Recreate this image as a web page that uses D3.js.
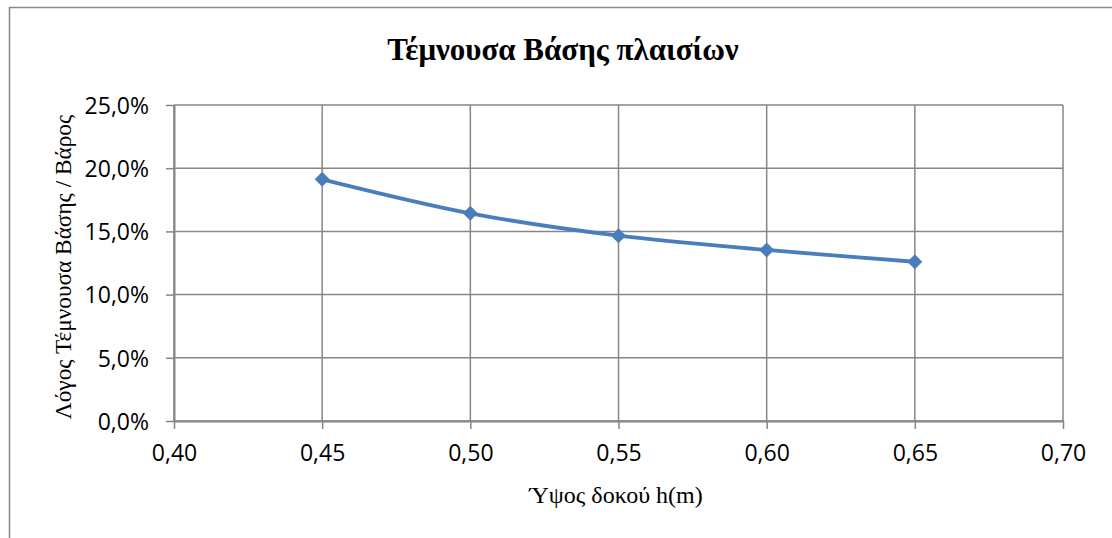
<!DOCTYPE html>
<html>
<head>
<meta charset="utf-8">
<script src="https://cdn.jsdelivr.net/npm/d3@7"></script>
<style>
  html, body { margin: 0; padding: 0; background: #fff; }
  svg { display: block; }
</style>
</head>
<body>
<svg id="chart" width="1112" height="538"></svg>
<script>
// Beam height h (m) and shear-to-weight ratio
const heights = [0.45, 0.50, 0.55, 0.60, 0.65];
const ratios = [0.1912, 0.1643, 0.1466, 0.1353, 0.1260];

const xTicks = [0.40, 0.45, 0.50, 0.55, 0.60, 0.65, 0.70];
const yTicks = [0, 0.05, 0.10, 0.15, 0.20, 0.25];

const title = "Τέμνουσα Βάσης πλαισίων";
const xTitle = "Ύψος δοκού h(m)";
const yTitle = "Λόγος Τέμνουσα Βάσης / Βάρος";

const svg = d3.select("#chart");
const W = 1112, H = 538;
const plot = { left: 174, right: 1063, top: 105, bottom: 421 };
const grey = "#868686";
const blue = "#4a7ebb";

// Outer chart frame
svg.append("rect")
  .attr("x", 9.5).attr("y", 7.5)
  .attr("width", W).attr("height", H)
  .attr("fill", "#fff").attr("stroke", grey).attr("stroke-width", 1.5);

const x = d3.scaleLinear().domain([0.40, 0.70]).range([plot.left, plot.right]);
const y = d3.scaleLinear().domain([0, 0.25]).range([plot.bottom, plot.top]);

const fmtX = v => d3.format(".2f")(v).replace(".", ",");
const fmtY = v => d3.format(".1f")(v * 100).replace(".", ",") + "%";

// Horizontal gridlines
svg.append("g").selectAll("line").data(yTicks).join("line")
  .attr("x1", plot.left).attr("x2", plot.right)
  .attr("y1", d => y(d)).attr("y2", d => y(d))
  .attr("stroke", grey).attr("stroke-width", 1.5);

// Vertical gridlines
svg.append("g").selectAll("line").data(xTicks).join("line")
  .attr("x1", d => x(d)).attr("x2", d => x(d))
  .attr("y1", plot.top).attr("y2", plot.bottom)
  .attr("stroke", grey).attr("stroke-width", 1.5);

// Axes
const xAxis = svg.append("g")
  .attr("transform", `translate(0,${plot.bottom})`)
  .call(d3.axisBottom(x).tickValues(xTicks).tickFormat(fmtX).tickSize(8).tickSizeOuter(0).tickPadding(16));
const yAxis = svg.append("g")
  .attr("transform", `translate(${plot.left},0)`)
  .call(d3.axisLeft(y).tickValues(yTicks).tickFormat(fmtY).tickSize(8).tickSizeOuter(0).tickPadding(17));

[xAxis, yAxis].forEach(g => {
  g.select(".domain").attr("stroke", grey).attr("stroke-width", 2);
  g.selectAll(".tick line").attr("stroke", grey).attr("stroke-width", 1.5);
  g.selectAll(".tick text")
    .attr("fill", "#000")
    .style("font-family", "'Open Sans', 'Liberation Sans', sans-serif")
    .style("font-size", "23px");
});
yAxis.selectAll(".tick text").attr("dy", "0.36em");

// Smoothed series line
const line = d3.line()
  .x((d, i) => x(heights[i]))
  .y(d => y(d))
  .curve(d3.curveCatmullRom.alpha(0.5));

svg.append("path")
  .datum(ratios)
  .attr("d", line)
  .attr("fill", "none")
  .attr("stroke", blue)
  .attr("stroke-width", 3.8)
  .attr("stroke-linejoin", "round");

// Diamond markers
svg.append("g").selectAll("path").data(ratios).join("path")
  .attr("transform", (d, i) => `translate(${x(heights[i])},${y(d)})`)
  .attr("d", "M0,-7.5L7.5,0L0,7.5L-7.5,0Z")
  .attr("fill", blue);

// Titles
svg.append("text")
  .attr("x", 563).attr("y", 60)
  .attr("text-anchor", "middle")
  .style("font-family", "'Liberation Serif', 'DejaVu Serif', serif")
  .style("font-weight", "bold")
  .style("font-size", "31px")
  .text(title);

svg.append("text")
  .attr("x", 616).attr("y", 503)
  .attr("text-anchor", "middle")
  .style("font-family", "'Liberation Serif', 'DejaVu Serif', serif")
  .style("font-size", "24px")
  .text(xTitle);

svg.append("text")
  .attr("transform", `translate(71,${(plot.top + plot.bottom) / 2 + 4}) rotate(-90)`)
  .attr("text-anchor", "middle")
  .style("font-family", "'Liberation Serif', 'DejaVu Serif', serif")
  .style("font-size", "23.3px")
  .text(yTitle);
</script>
</body>
</html>
